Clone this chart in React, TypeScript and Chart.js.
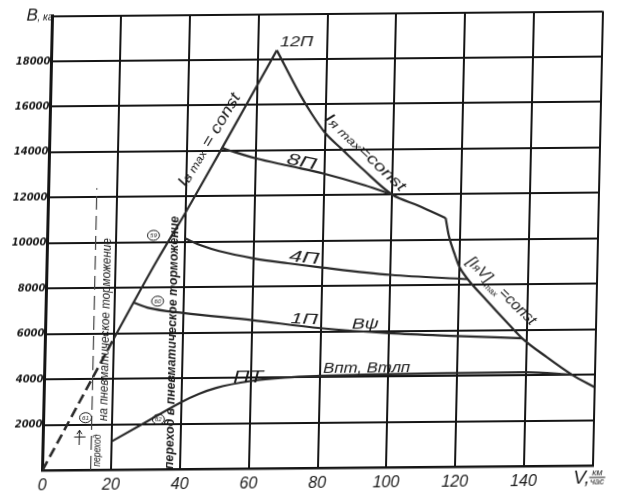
import { useEffect, useRef } from 'react';
import { Chart, registerables } from 'chart.js';

Chart.register(...registerables);

// ---------- data (speed V, km/h ; braking force B, kg) ----------
const approachV = [0, 20];
const approachB = [0, 5800];

const ivMaxV = [20, 25.4, 32, 40, 50.2, 65.5];
const ivMaxB = [5800, 7350, 9200, 11300, 14120, 18400];

const iyaMaxV = [65.5, 72.6, 76, 80.1, 85, 91.5, 100, 107.8, 115.7];
const iyaMaxB = [18400, 16430, 15600, 14740, 14030, 13100, 12000, 11500, 10950];

const iyaVV = [115.7, 116.7, 118.6, 120, 122.5, 128.1, 134.1, 138.7, 146, 153.5, 160];
const iyaVB = [10950, 10190, 9330, 8800, 8250, 7320, 6350, 5630, 4790, 4000, 3450];

const p8V = [50.2, 53.5, 60, 70, 80, 92, 100];
const p8B = [14120, 13950, 13650, 13300, 12950, 12420, 12000];

const p4V = [40, 45, 50, 60, 70, 80, 100, 122.5];
const p4B = [10150, 9820, 9580, 9250, 9020, 8820, 8470, 8250];

const p1V = [25.4, 30, 40, 60, 80, 100, 120, 138.7];
const p1B = [7350, 7100, 6870, 6530, 6150, 5900, 5750, 5630];

const ptV = [20, 30, 40, 45, 50, 60, 70, 80, 100, 120, 140, 153.5];
const ptB = [1250, 2100, 2950, 3300, 3560, 3850, 3990, 4050, 4100, 4120, 4130, 4000];

const guideV = [14, 14];
const guideB = [0, 12400];

const xTicks = [0, 20, 40, 60, 80, 100, 120, 140];
const yTicks = [2000, 4000, 6000, 8000, 10000, 12000, 14000, 16000, 18000];

// ---------- annotations ----------
type Seg = { t: string; size: number; dy?: number; weight?: string };
type Note = { segs: Seg[]; v: number; b: number; angle: number; width: number };

const notes: Note[] = [
  { segs: [{ t: '12П', size: 15 }], v: 71.2, b: 18800, angle: 0, width: 33 },
  { segs: [{ t: '8П', size: 16 }], v: 73.5, b: 13520, angle: 12, width: 30 },
  { segs: [{ t: '4П', size: 16 }], v: 74.8, b: 9300, angle: 6, width: 30 },
  { segs: [{ t: '1П', size: 15 }], v: 75.2, b: 6590, angle: 3, width: 27 },
  { segs: [{ t: 'Вψ', size: 15 }], v: 93, b: 6360, angle: 0, width: 27 },
  { segs: [{ t: 'ПТ', size: 16 }], v: 59.3, b: 4020, angle: 0, width: 30 },
  { segs: [{ t: 'Впт, Втлп', size: 14 }], v: 93.7, b: 4400, angle: 0, width: 87 },
  {
    segs: [{ t: 'I', size: 17 }, { t: 'в', size: 13 }, { t: ' max', size: 11 }, { t: ' = const', size: 16 }],
    v: 46.1, b: 14500, angle: -60, width: 105,
  },
  {
    segs: [{ t: 'I', size: 16 }, { t: 'я', size: 12 }, { t: ' max', size: 11 }, { t: '=const', size: 15 }],
    v: 92.1, b: 13900, angle: 43, width: 107,
  },
  {
    segs: [
      { t: '[I', size: 15 }, { t: 'я', size: 11 }, { t: 'V]', size: 15 },
      { t: 'max', size: 8, dy: 5 }, { t: '=const', size: 15 },
    ],
    v: 132.6, b: 7750, angle: 44, width: 92,
  },
  { segs: [{ t: 'на пневматическое торможение', size: 12 }], v: 17.3, b: 6170, angle: -90, width: 183 },
  { segs: [{ t: 'переход', size: 11 }], v: 15.5, b: 850, angle: -90, width: 32 },
  {
    segs: [{ t: 'переход в пневматическое торможение', size: 13, weight: 'bold' }],
    v: 36.7, b: 5570, angle: -90, width: 253,
  },
];

const circleLabels = ['59', '60', '61', '62'];
const circleV = [30.8, 32.4, 12.2, 33.4];
const circleB = [10300, 7400, 2300, 2200];

const FAMILY = '"Liberation Sans", "DejaVu Sans", sans-serif';
const INK = '#1b1b1b';
const LINE = '#2a2a2a';
const GRID = '#151515';

const pts = (vs: number[], bs: number[]) => vs.map((v, i) => ({ x: v, y: bs[i] }));

function drawRich(ctx: CanvasRenderingContext2D, segs: Seg[], cx: number, cy: number, angle: number, width: number) {
  ctx.save();
  ctx.translate(cx, cy);
  ctx.rotate((angle * Math.PI) / 180);
  const widths = segs.map((s) => {
    ctx.font = `italic ${s.weight || 'normal'} ${s.size}px ${FAMILY}`;
    return ctx.measureText(s.t).width;
  });
  const total = widths.reduce((a, b) => a + b, 0);
  const sx = width / total;
  ctx.scale(sx, 1);
  const main = Math.max(...segs.map((s) => s.size));
  let xx = -total / 2;
  ctx.textBaseline = 'alphabetic';
  ctx.textAlign = 'left';
  ctx.fillStyle = INK;
  segs.forEach((s, i) => {
    ctx.font = `italic ${s.weight || 'normal'} ${s.size}px ${FAMILY}`;
    ctx.fillText(s.t, xx, main * 0.36 + (s.dy || 0));
    xx += widths[i];
  });
  ctx.restore();
}

const annotPlugin = {
  id: 'annot',
  afterDatasetsDraw(chart: any) {
    const { ctx, scales, chartArea } = chart;
    const x = scales.x;
    const y = scales.y;
    notes.forEach((n) => drawRich(ctx, n.segs, x.getPixelForValue(n.v), y.getPixelForValue(n.b), n.angle, n.width));

    // circled point numbers
    circleLabels.forEach((lab, i) => {
      const cx = x.getPixelForValue(circleV[i]);
      const cy = y.getPixelForValue(circleB[i]);
      ctx.save();
      ctx.strokeStyle = INK;
      ctx.lineWidth = 1;
      ctx.beginPath();
      ctx.ellipse(cx, cy, 6, 5, 0, 0, Math.PI * 2);
      ctx.stroke();
      ctx.fillStyle = INK;
      ctx.font = `italic 6px ${FAMILY}`;
      ctx.textAlign = 'center';
      ctx.textBaseline = 'middle';
      ctx.fillText(lab, cx, cy + 0.5);
      ctx.restore();
    });

    // small arrow mark near "переход"
    ctx.save();
    ctx.strokeStyle = INK;
    ctx.lineWidth = 1;
    const ax = x.getPixelForValue(10.5);
    const ay0 = y.getPixelForValue(1100);
    const ay1 = y.getPixelForValue(1750);
    ctx.beginPath();
    ctx.moveTo(ax, ay0);
    ctx.lineTo(ax, ay1);
    ctx.moveTo(ax - 2.5, ay1 + 4);
    ctx.lineTo(ax, ay1);
    ctx.lineTo(ax + 2.5, ay1 + 4);
    const hy = y.getPixelForValue(1450);
    ctx.moveTo(x.getPixelForValue(9), hy);
    ctx.lineTo(x.getPixelForValue(12.3), hy);
    ctx.stroke();
    ctx.restore();

    // axis titles
    ctx.save();
    ctx.fillStyle = INK;
    ctx.textBaseline = 'alphabetic';
    ctx.textAlign = 'left';
    ctx.font = `italic 17px ${FAMILY}`;
    ctx.fillText('В', chartArea.left - 26, chartArea.top + 4);
    ctx.font = `italic 10px ${FAMILY}`;
    ctx.fillText(', кг', chartArea.left - 15, chartArea.top + 4);

    const vx = chartArea.right - 19;
    const vy = chartArea.bottom + 18;
    ctx.font = `italic 19px ${FAMILY}`;
    ctx.fillText('V,', vx, vy);
    ctx.font = `italic 9px ${FAMILY}`;
    ctx.textAlign = 'center';
    ctx.fillText('км', vx + 24, vy - 8);
    ctx.fillText('час', vx + 24, vy + 1);
    ctx.strokeStyle = INK;
    ctx.lineWidth = 1;
    ctx.beginPath();
    ctx.moveTo(vx + 16, vy - 6);
    ctx.lineTo(vx + 32, vy - 6);
    ctx.stroke();
    ctx.restore();
  },
};

export default function App() {
  const ref = useRef<HTMLCanvasElement | null>(null);

  useEffect(() => {
    if (!ref.current) return;
    const solid = (data: { x: number; y: number }[], extra: any = {}) => ({
      data,
      borderColor: LINE,
      borderWidth: 2.2,
      pointRadius: 0,
      fill: false,
      cubicInterpolationMode: 'monotone',
      ...extra,
    });
    const chart = new Chart(ref.current, {
      type: 'line',
      data: {
        datasets: [
          solid(pts(approachV, approachB), { borderDash: [10, 5], borderWidth: 2.6 }),
          solid(pts(ivMaxV, ivMaxB)),
          solid(pts(iyaMaxV, iyaMaxB)),
          solid(pts(iyaVV, iyaVB)),
          solid(pts(p8V, p8B)),
          solid(pts(p4V, p4B)),
          solid(pts(p1V, p1B)),
          solid(pts(ptV, ptB)),
          solid(pts(guideV, guideB), { borderDash: [14, 6], borderWidth: 1.2, borderColor: '#444' }),
        ] as any,
      },
      options: {
        animation: false,
        responsive: false,
        layout: { padding: { top: 13.5, right: 35.5, left: 0, bottom: 0 } },
        plugins: { legend: { display: false }, tooltip: { enabled: false } },
        elements: { point: { radius: 0 } },
        scales: {
          x: {
            type: 'linear',
            min: 0,
            max: 160,
            afterBuildTicks: (s: any) => {
              s.ticks = [...xTicks, 160].map((v) => ({ value: v }));
            },
            ticks: {
              callback: (v: any) => (xTicks.includes(Number(v)) ? String(v) : ''),
              font: { family: FAMILY, style: 'italic', size: 16 },
              color: INK,
              padding: 6,
              maxRotation: 0,
              autoSkip: false,
            },
            grid: { color: GRID, lineWidth: 2, drawTicks: false },
            border: { color: GRID, width: 2.6 },
            afterFit: (s: any) => {
              s.height = 30;
            },
          },
          y: {
            type: 'linear',
            min: 0,
            max: 20000,
            afterBuildTicks: (s: any) => {
              s.ticks = [0, ...yTicks, 20000].map((v) => ({ value: v }));
            },
            ticks: {
              callback: (v: any) => (yTicks.includes(Number(v)) ? String(v) : ''),
              font: { family: '"DejaVu Sans", sans-serif', style: 'italic', weight: 'bold', size: 10 },
              color: INK,
              padding: 1,
              autoSkip: false,
            },
            grid: { color: GRID, lineWidth: 2, drawTicks: false },
            border: { color: GRID, width: 3 },
            afterFit: (s: any) => {
              s.width = 47.5;
            },
          },
        },
      } as any,
      plugins: [annotPlugin],
    });
    return () => chart.destroy();
  }, []);

  // the scanned original is slightly sheared; reproduce that tilt
  return (
    <div
      style={{
        position: 'absolute',
        left: 0,
        top: 0,
        width: 633,
        height: 498,
        background: '#fff',
        transform: 'skew(-1.26deg, -0.5deg)',
        transformOrigin: '322px 241px',
      }}
    >
      <canvas ref={ref} width={633} height={498} />
    </div>
  );
}
